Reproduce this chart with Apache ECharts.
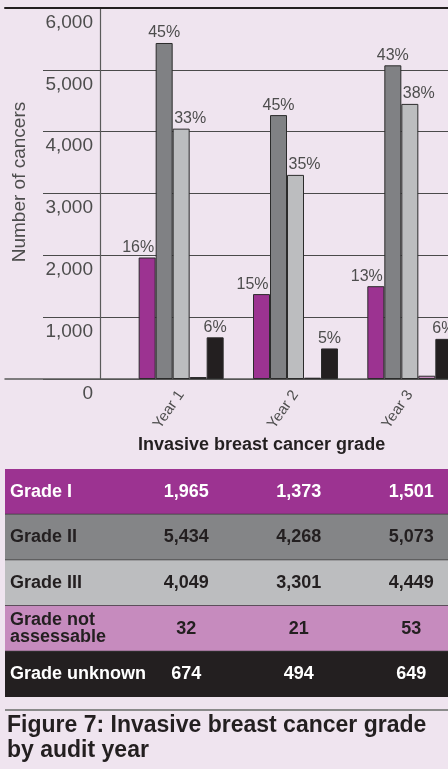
<!DOCTYPE html>
<html>
<head>
<meta charset="utf-8">
<script src="https://cdn.jsdelivr.net/npm/echarts@6/dist/echarts.min.js"></script>
<style>
  html, body { margin: 0; padding: 0; background: #efe4ef; }
  #chart { width: 448px; height: 769px; }
</style>
</head>
<body>
<div id="chart"></div>
<script>
const years = ["Year 1", "Year 2", "Year 3"];
const gradeNames = ["Grade I", "Grade II", "Grade III", "Grade not\nassessable", "Grade unknown"];
const grade1 = [1965, 1373, 1501];
const grade2 = [5434, 4268, 5073];
const grade3 = [4049, 3301, 4449];
const notAssessable = [32, 21, 53];
const unknown = [674, 494, 649];
const pct1 = ["16%", "15%", "13%"];
const pct2 = ["45%", "45%", "43%"];
const pct3 = ["33%", "35%", "38%"];
const pctUnknown = ["6%", "5%", "6%"];
const yTicks = [0, 1000, 2000, 3000, 4000, 5000, 6000];

const font = "'Liberation Sans', Arial, Helvetica, sans-serif";
const colors = ["#9c3391", "#808184", "#bcbdbf", "#c68bbe", "#231f20"];
const rowColors = ["#9c3391", "#848587", "#bcbdbf", "#c68bbe", "#231f20"];
const rowText = ["#ffffff", "#231f20", "#231f20", "#231f20", "#ffffff"];

const values = [grade1, grade2, grade3, notAssessable, unknown];
const pcts = [pct1, pct2, pct3, null, pctUnknown];
const labelShift = [-9, 0, 9, 0, 0];

const chart = echarts.init(document.getElementById("chart"));

const barSeries = values.map((vals, s) => ({
  type: "bar",
  name: gradeNames[s],
  xAxisIndex: 3,
  yAxisIndex: 2,
  data: vals,
  barWidth: 17,
  barGap: "0%",
  itemStyle: { color: colors[s], borderColor: "#2b2b2b", borderWidth: 1 },
  label: {
    show: pcts[s] !== null,
    position: "top",
    distance: 2,
    offset: [labelShift[s], 0],
    formatter: (p) => (pcts[s] ? pcts[s][p.dataIndex] : ""),
    fontFamily: font,
    fontSize: 16,
    color: "#4d4d4d",
  },
}));

const hiddenValueX = (gridIndex, position) => ({
  type: "value", gridIndex, min: 0, max: 1, position,
  axisLabel: { show: false }, axisTick: { show: false }, splitLine: { show: false },
});

const option = {
  backgroundColor: "#efe4ef",
  animation: false,
  textStyle: { fontFamily: font },
  title: [
    {
      text: "Invasive breast cancer grade",
      left: 138,
      top: 436,
      padding: 0,
      textStyle: { fontFamily: font, fontSize: 18, fontWeight: "bold", color: "#231f20" },
    },
    {
      text: "Figure 7: Invasive breast cancer grade\nby audit year",
      left: 7,
      top: 713,
      padding: 0,
      textStyle: { fontFamily: font, fontSize: 23, fontWeight: "bold", color: "#231f20", lineHeight: 25 },
    },
  ],
  grid: [
    { left: 5, right: 0, top: 8, bottom: 390, outerBoundsMode: "none" },
    { left: 43, right: 0, top: 8, bottom: 390, outerBoundsMode: "none" },
    { left: 124, width: 343, top: 8, bottom: 390, outerBoundsMode: "none" },
    { left: 130, width: 337.5, top: 469, height: 228, outerBoundsMode: "none" },
  ],
  xAxis: [
    Object.assign(hiddenValueX(0, "bottom"), { axisLine: { show: true, lineStyle: { color: "#5a5a5a", width: 1.5 } } }),
    Object.assign(hiddenValueX(0, "top"), { axisLine: { show: true, lineStyle: { color: "#231f20", width: 2 } } }),
    Object.assign(hiddenValueX(1, "bottom"), { show: false }),
    {
      type: "category",
      gridIndex: 2,
      data: years,
      axisLine: { show: false },
      axisTick: { show: false },
      axisLabel: { rotate: 55, margin: 13, padding: [0, 0, 0, 6], fontFamily: font, fontSize: 15, color: "#4d4d4d" },
    },
    { type: "category", gridIndex: 3, data: years, show: false },
  ],
  yAxis: [
    { type: "value", gridIndex: 0, min: 0, max: 6000, show: false },
    {
      type: "value",
      gridIndex: 1,
      min: 0,
      max: 6000,
      interval: 1000,
      offset: -57,
      axisLine: { show: true, lineStyle: { color: "#5a5a5a", width: 1.2 } },
      axisTick: { show: false },
      splitLine: { show: true, lineStyle: { color: "#4a4a4a", width: 1.2 } },
      axisLabel: {
        margin: 7,
        fontFamily: font,
        fontSize: 19,
        color: "#4d4d4d",
        verticalAlign: "top",
        padding: [5, 0, 0, 0],
        formatter: (v) => (yTicks.indexOf(v) >= 0 ? v.toLocaleString("en-US") : ""),
      },
    },
    { type: "value", gridIndex: 2, min: 0, max: 6000, show: false },
    { type: "category", gridIndex: 3, data: gradeNames, inverse: true, show: false },
  ],
  graphic: [
    {
      type: "text",
      x: 20,
      y: 182,
      rotation: Math.PI / 2,
      style: {
        text: "Number of cancers",
        fontFamily: font,
        fontSize: 19,
        fill: "#4d4d4d",
        textAlign: "center",
        textVerticalAlign: "middle",
      },
    },
    {
      type: "line",
      shape: { x1: 5, y1: 710, x2: 448, y2: 710 },
      style: { stroke: "#8a8a8a", lineWidth: 2 },
    },
  ],
  series: barSeries.concat([
    {
      type: "custom",
      xAxisIndex: 4,
      yAxisIndex: 3,
      silent: true,
      data: gradeNames.map((n, i) => [0, i]),
      renderItem: (params, api) => {
        const row = params.dataIndex;
        const yc = api.coord([0, row])[1];
        const h = api.size([0, 1])[1];
        const w = api.getWidth();
        const children = [
          { type: "rect", shape: { x: 5, y: yc - h / 2, width: w - 5, height: h }, style: { fill: rowColors[row] } },
          {
            type: "text",
            style: {
              text: gradeNames[row], x: 10, y: yc,
              textAlign: "left", textVerticalAlign: "middle",
              fontFamily: font, fontSize: 18, fontWeight: "bold", lineHeight: 17, fill: rowText[row],
            },
          },
        ];
        if (row < gradeNames.length - 1) {
          children.push({ type: "line", shape: { x1: 5, y1: yc + h / 2, x2: w, y2: yc + h / 2 }, style: { stroke: "#3a3a3a", lineWidth: 1.5 } });
        }
        years.forEach((y, c) => {
          children.push({
            type: "text",
            style: {
              text: values[row][c].toLocaleString("en-US"),
              x: api.coord([c, row])[0], y: yc,
              textAlign: "center", textVerticalAlign: "middle",
              fontFamily: font, fontSize: 18, fontWeight: "bold", fill: rowText[row],
            },
          });
        });
        return { type: "group", children };
      },
    },
  ]),
};

chart.setOption(option);
window.addEventListener("resize", chart.resize);
</script>
</body>
</html>
